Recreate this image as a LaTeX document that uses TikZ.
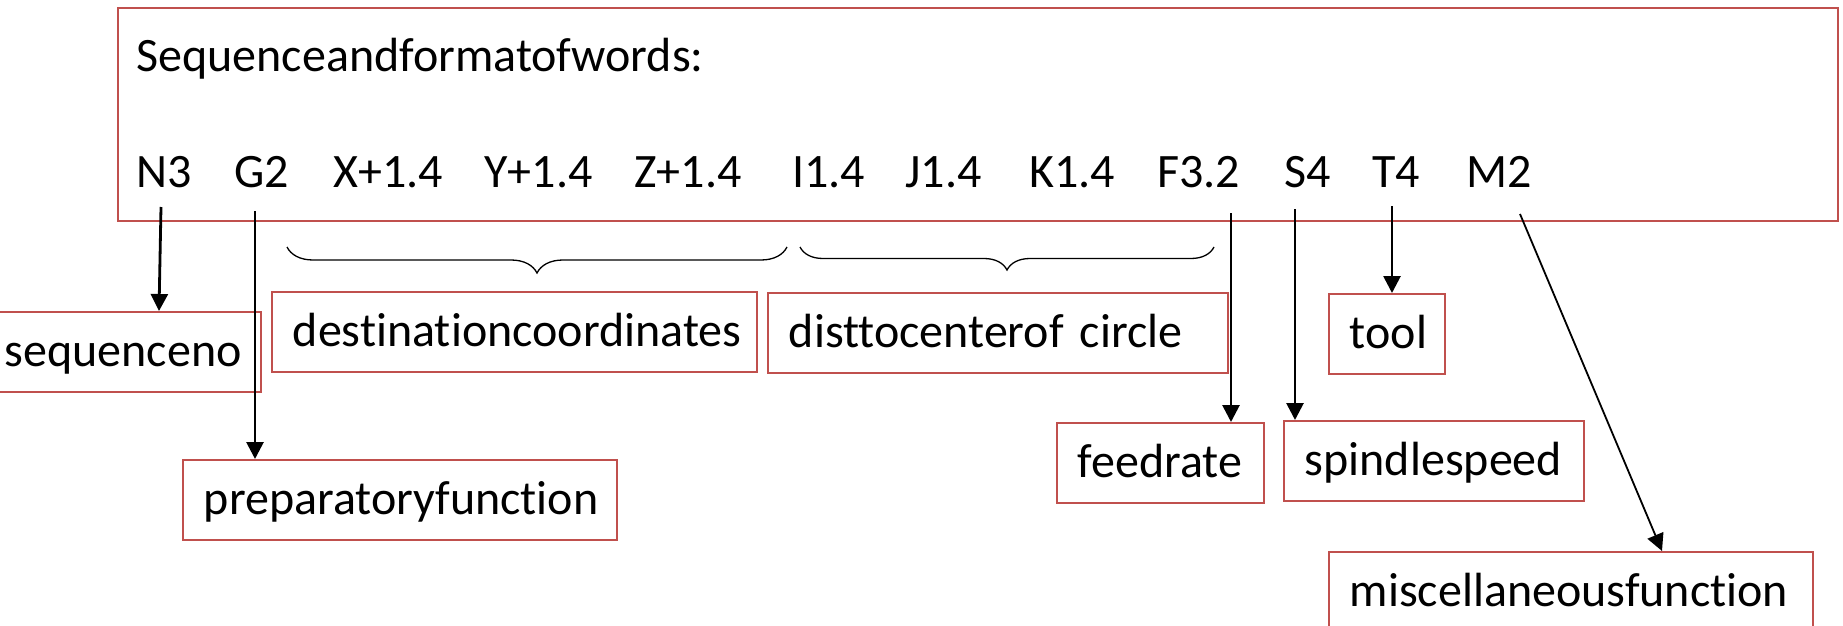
\documentclass[tikz,border=0pt]{standalone}
\usepackage{fontspec}
\setmainfont[Ligatures={NoCommon,NoRare,NoContextual}]{Carlito}
\usetikzlibrary{arrows.meta,decorations.pathreplacing}
\definecolor{boxred}{HTML}{C0504D}
\begin{document}
\begin{tikzpicture}[x=0.5pt,y=-0.5pt,
  every node/.style={font=\fontsize{24}{28}\selectfont},
  word/.style={anchor=base west, inner sep=0pt},
  tag/.style={draw=boxred, line width=0.8pt, anchor=north west,
    inner xsep=10.5pt, inner ysep=0pt, text height=27.5pt, text depth=12.5pt,
    align=left, text width=#1},
  arr/.style={line width=1.4pt, -{Triangle[length=8.5pt,width=8.5pt]}},
  brc/.style={decorate, decoration={brace, mirror, amplitude=#1}, line width=0.65pt}
]
\clip (0,0) rectangle (1843,626);

% outer frame with the word format
\node[draw=boxred, line width=0.8pt, anchor=north west, inner sep=0pt,
      minimum width=860pt, minimum height=106.5pt] (frame) at (117,7) {};
\node[word] (title) at (136,72) {Sequenceandformatofwords:};
\node[word] (wN) at (136,188) {N3};
\node[word] (wG) at (234,188) {G2};
\node[word] (wX) at (333,188) {X+1.4};
\node[word] (wY) at (484,188) {Y+1.4};
\node[word] (wZ) at (634,188) {Z+1.4};
\node[word] (wI) at (792,188) {I1.4};
\node[word] (wJ) at (905,188) {J1.4};
\node[word] (wK) at (1029,188) {K1.4};
\node[word] (wF) at (1157,188) {F3.2};
\node[word] (wS) at (1284,188) {S4};
\node[word] (wT) at (1372,188) {T4};
\node[word] (wM) at (1466,188) {M2};

% explanation boxes
\node[tag=117.5pt] (seq)  at (-17,311) {sequenceno};
\node[tag=196pt]   (prep) at (182,459) {preparatoryfunction};
\node[tag=221.5pt] (dest) at (271,291) {destinationcoordinates};
\node[tag=209pt]   (dist) at (767,292) {disttocenterof circle};
\node[tag=37pt]    (tool) at (1328,293) {tool};
\node[tag=82.5pt]  (feed) at (1056,422) {feedrate};
\node[tag=129pt]   (spin) at (1283,420) {spindlespeed};
\node[tag=221pt]   (misc) at (1328,551) {miscellaneousfunction};

% arrow start points below the words
\coordinate (pN) at (161,207);
\coordinate (pG) at (255,211);
\coordinate (pF) at (1231,213);
\coordinate (pS) at (1295,209);
\coordinate (pT) at (1392,206);
\coordinate (pM) at (1520,214);

\draw[arr] (pN) -- (159,0 |- seq.north);
\draw[arr] (pG) -- (pG |- prep.north);
\draw[arr] (pF) -- (pF |- feed.north);
\draw[arr] (pS) -- (pS |- spin.north);
\draw[arr] (pT) -- (pT |- tool.north);
\draw[arr, line width=0.9pt] (pM) -- (1662,0 |- misc.north);

% braces grouping the coordinate words
\coordinate (b1a) at (287,247);
\coordinate (b1b) at (787,247);
\coordinate (b2a) at (800,247);
\coordinate (b2b) at (1214,247);
\draw[brc=13pt] (b1a) -- (b1b);
\draw[brc=11.5pt] (b2a) -- (b2b);
\end{tikzpicture}
\end{document}
